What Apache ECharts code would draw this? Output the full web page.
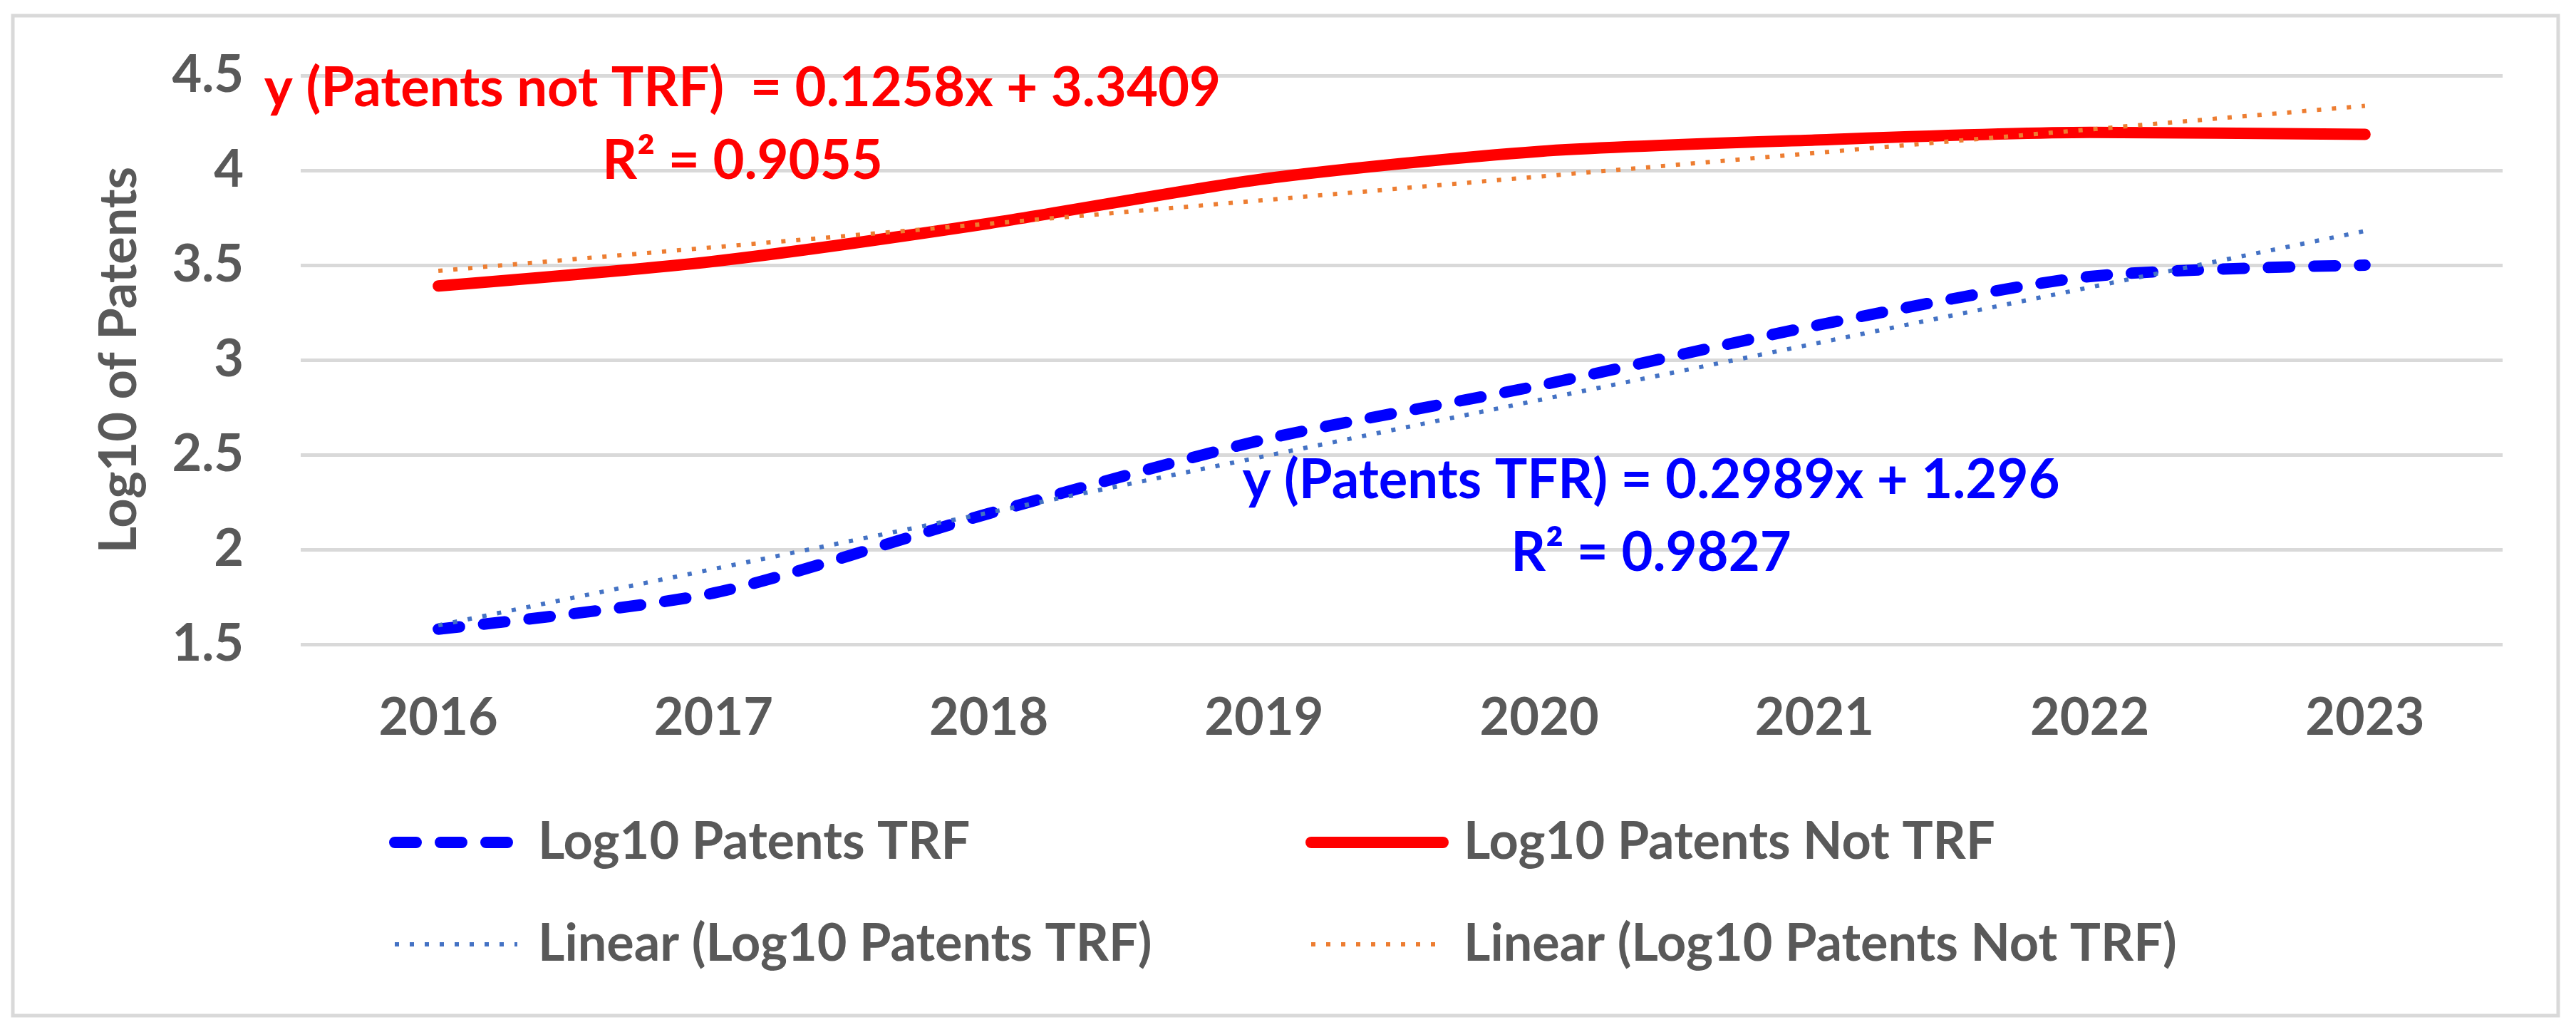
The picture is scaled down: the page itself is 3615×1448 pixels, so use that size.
<!DOCTYPE html>
<html>
<head>
<meta charset="utf-8">
<title>Log10 patents</title>
<script src="https://cdn.jsdelivr.net/npm/echarts@6/dist/echarts.min.js"></script>
<style>
  html, body { margin: 0; padding: 0; background: #fff; }
  #main { width: 3615px; height: 1448px; }
</style>
</head>
<body>
<div id="main"></div>
<script>
// values
const years = ['2016', '2017', '2018', '2019', '2020', '2021', '2022', '2023'];
const patentsTRF = [1.58, 1.77, 2.19, 2.58, 2.865, 3.18, 3.44, 3.50];
const patentsNotTRF = [3.39, 3.52, 3.72, 3.955, 4.10, 4.16, 4.20, 4.19];
// trend lines: only the two end points are read, the line between is straight
const trendTRF = [1.60, null, null, null, null, null, null, 3.68];
const trendNotTRF = [3.47, null, null, null, null, null, null, 4.34];
const yTicks = { min: 1.5, max: 4.5, step: 0.5 };

const eqNotTRF = 'y (Patents not TRF)  = 0.1258x + 3.3409\nR\u00b2 = 0.9055';
const eqTRF = 'y (Patents TFR) = 0.2989x + 1.296\nR\u00b2 = 0.9827';

const FONT = 'Lato, "Open Sans", sans-serif';
const GREY = '#595959';

const dashTRF = { color: '#0000ff', width: 16, type: [30, 34], cap: 'round', join: 'round' };
const solidNot = { color: '#ff0000', width: 16, type: 'solid', cap: 'round', join: 'round' };
const dotTRF = { color: '#4472c4', width: 6, type: [6, 15] };
const dotNot = { color: '#ed7d31', width: 6, type: [6, 15] };

const legendText = { fontSize: 72, fontWeight: 'bold', fontFamily: FONT, color: GREY, lineHeight: 80, padding: [0, 0, 0, 24] };

var myChart = echarts.init(document.getElementById('main'));
var option = {
  backgroundColor: '#ffffff',
  animation: false,
  grid: { left: 422, right: 103, top: 106, bottom: 544 },
  xAxis: {
    type: 'category',
    data: years,
    boundaryGap: true,
    axisLine: { show: false },
    axisTick: { show: false },
    axisLabel: { margin: 68, fontSize: 72, fontWeight: 'bold', fontFamily: FONT, color: GREY }
  },
  yAxis: {
    type: 'value',
    min: yTicks.min,
    max: yTicks.max,
    interval: yTicks.step,
    name: 'Log10 of Patents',
    nameLocation: 'middle',
    nameRotate: 90,
    nameGap: 218,
    nameTextStyle: { fontSize: 72, fontWeight: 'bold', fontFamily: FONT, color: GREY },
    axisLine: { show: false },
    axisTick: { show: false },
    axisLabel: { margin: 80, fontSize: 72, fontWeight: 'bold', fontFamily: FONT, color: GREY },
    splitLine: { lineStyle: { color: '#d9d9d9', width: 5 } }
  },
  legend: [
    {
      orient: 'vertical', left: 541, top: 1137,
      itemWidth: 172, itemHeight: 20, itemGap: 63,
      itemStyle: { opacity: 0 },
      data: [
        { name: 'Log10 Patents TRF', lineStyle: dashTRF },
        { name: 'Linear (Log10 Patents TRF)', lineStyle: dotTRF }
      ],
      textStyle: legendText
    },
    {
      orient: 'vertical', left: 1827, top: 1137,
      itemWidth: 185, itemHeight: 20, itemGap: 63,
      itemStyle: { opacity: 0 },
      data: [
        { name: 'Log10 Patents Not TRF', lineStyle: solidNot },
        { name: 'Linear (Log10 Patents Not TRF)', lineStyle: dotNot }
      ],
      textStyle: legendText
    }
  ],
  graphic: [
    {
      type: 'rect', silent: true, z: -10,
      shape: { x: 18, y: 22, width: 3572, height: 1403 },
      style: { fill: 'none', stroke: '#d9d9d9', lineWidth: 5 }
    },
    {
      type: 'text', z: 100,
      style: {
        x: 1042, y: 175, text: eqNotTRF, fill: '#ff0000',
        font: 'bold 76px ' + FONT, lineHeight: 102,
        align: 'center', verticalAlign: 'middle', textAlign: 'center', textVerticalAlign: 'middle'
      }
    },
    {
      type: 'text', z: 100,
      style: {
        x: 2317, y: 725, text: eqTRF, fill: '#0000ff',
        font: 'bold 76px ' + FONT, lineHeight: 102,
        align: 'center', verticalAlign: 'middle', textAlign: 'center', textVerticalAlign: 'middle'
      }
    }
  ],
  series: [
    {
      name: 'Log10 Patents TRF', type: 'line', data: patentsTRF,
      symbol: 'none', smooth: 0.25,
      itemStyle: { color: '#0000ff' },
      lineStyle: dashTRF
    },
    {
      name: 'Log10 Patents Not TRF', type: 'line', data: patentsNotTRF,
      symbol: 'none', smooth: 0.25,
      itemStyle: { color: '#ff0000' },
      lineStyle: solidNot
    },
    {
      name: 'Linear (Log10 Patents TRF)', type: 'line', data: trendTRF,
      symbol: 'none', connectNulls: true,
      itemStyle: { color: '#4472c4' },
      lineStyle: dotTRF
    },
    {
      name: 'Linear (Log10 Patents Not TRF)', type: 'line', data: trendNotTRF,
      symbol: 'none', connectNulls: true,
      itemStyle: { color: '#ed7d31' },
      lineStyle: dotNot
    }
  ]
};
myChart.setOption(option);
</script>
</body>
</html>
